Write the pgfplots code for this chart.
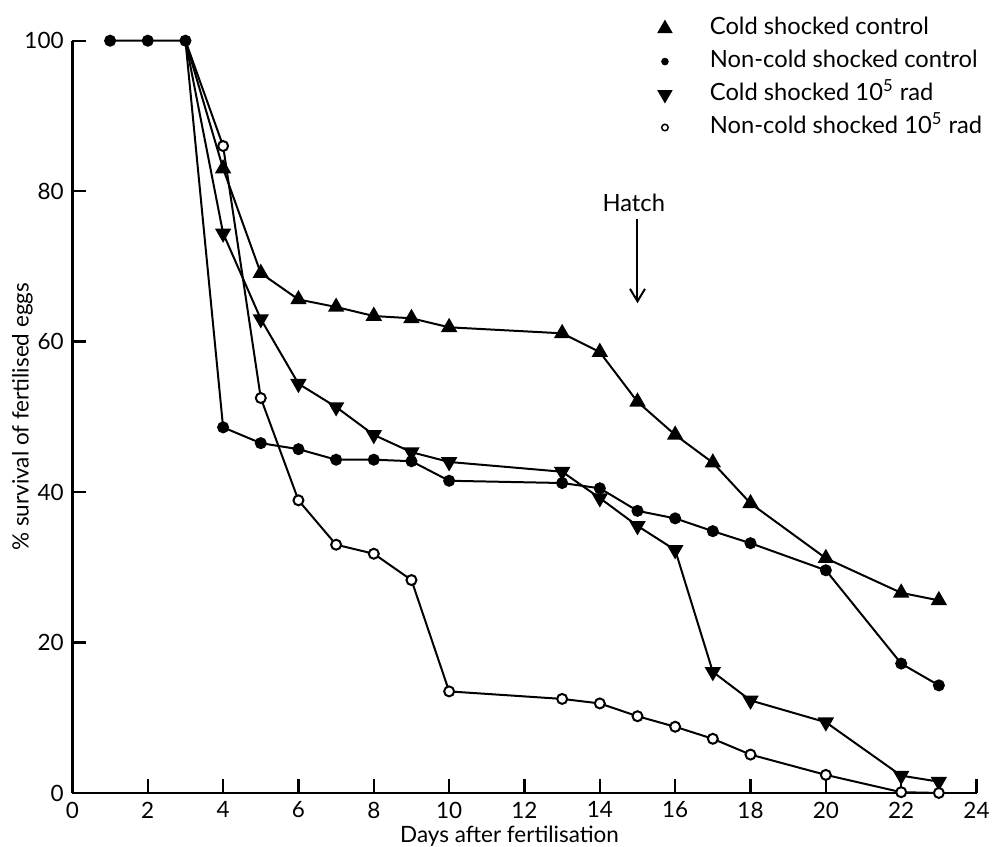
\documentclass[border=0pt]{standalone}
\usepackage{fontspec}
\setmainfont{Lato}
\usepackage{pgfplots}
\pgfplotsset{compat=1.18}
\usetikzlibrary{arrows.meta}
\begin{document}
\begin{tikzpicture}
\begin{axis}[
  scale only axis, width=362pt, height=301.2pt,
  xmin=0, xmax=24, ymin=0, ymax=100,
  clip=false,
  axis lines=left,
  axis line style={-, line width=1pt, black},
  xtick={0,2,...,24}, ytick={0,20,...,100},
  tick align=inside, major tick length=5.5pt,
  tick style={line width=0.9pt, black},
  /pgf/number format/assume math mode=true,
  tick label style={font=\fontsize{9}{10}\selectfont},
  every axis x label/.style={at={(axis description cs:0.4835,0)}, anchor=base, yshift=-20pt, font=\fontsize{9}{11}\selectfont},
  every axis y label/.style={at={(axis description cs:0,0.5)}, xshift=-20pt, rotate=90, anchor=center, font=\fontsize{9}{11}\selectfont},
  xlabel={Days after fertilisation},
  ylabel={\% survival of fertilised eggs},
  legend image code/.code={\draw[#1] plot coordinates {(0pt,0pt)}; \path[draw=none,fill=none] (-5pt,0pt) -- (17pt,0pt);},
  legend style={at={(axis description cs:0.641,1.035)}, anchor=north west, draw=none, fill=none, inner sep=0pt, row sep=2.2pt,
    nodes={inner sep=1pt, text height=7pt, text depth=2pt},
    font=\fontsize{9.5}{11}\selectfont},
  legend cell align=left,
  every axis plot/.append style={black, line width=0.8pt},
]
% legend images
\addlegendimage{only marks, mark=triangle*, mark size=2.8pt}
\addlegendentry{Cold shocked control}
\addlegendimage{only marks, mark=*, mark size=1.1pt}
\addlegendentry{Non-cold shocked control}
\addlegendimage{only marks, mark=triangle*, mark size=2.8pt, mark options={rotate=180}}
\addlegendentry{Cold shocked 10\textsuperscript{5} rad}
\addlegendimage{only marks, mark=*, mark size=1.3pt, mark options={fill=white, line width=0.6pt}}
\addlegendentry{Non-cold shocked 10\textsuperscript{5} rad}

% Cold shocked control
\addplot[forget plot, mark=triangle*, mark size=3pt, mark indices={2,...,17}] coordinates {
(3,100) (4,83) (5,69.1) (6,65.6) (7,64.6) (8,63.4) (9,63.1) (10,61.9) (13,61.1) (14,58.6) (15,52.0) (16,47.6) (17,43.9) (18,38.5) (20,31.2) (22,26.6) (23,25.6)};
% Cold shocked 10^5 rad
\addplot[forget plot, mark=triangle*, mark size=3pt, mark options={rotate=180}, mark indices={2,...,17}] coordinates {
(3,100) (4,74.4) (5,63.0) (6,54.4) (7,51.3) (8,47.6) (9,45.3) (10,44.0) (13,42.7) (14,39.2) (15,35.5) (16,32.3) (17,16.1) (18,12.3) (20,9.4) (22,2.3) (23,1.5)};
% Non-cold shocked 10^5 rad
\addplot[forget plot, mark=*, mark size=2pt, mark options={fill=white, line width=0.8pt}, mark indices={2,...,17}] coordinates {
(3,100) (4,86) (5,52.5) (6,38.9) (7,33.0) (8,31.8) (9,28.3) (10,13.5) (13,12.5) (14,11.9) (15,10.2) (16,8.8) (17,7.2) (18,5.1) (20,2.4) (22,0.1) (23,0)};
% Non-cold shocked control
\addplot[forget plot, mark=*, mark size=2pt] coordinates {
(1,100) (2,100) (3,100) (4,48.6) (5,46.5) (6,45.7) (7,44.3) (8,44.3) (9,44.1) (10,41.5) (13,41.2) (14,40.5) (15,37.5) (16,36.5) (17,34.8) (18,33.2) (20,29.6) (22,17.2) (23,14.3)};

\node[font=\fontsize{9.5}{11}\selectfont] at (axis cs:14.9,78.5) {Hatch};
\draw[-{Straight Barb[length=5pt,width=6pt]}, line width=0.8pt] (axis cs:15,76.3) -- (axis cs:15,65.1);
\end{axis}
\pgfresetboundingbox
\path[use as bounding box] (-29pt,-21.6pt) rectangle (369pt,317.5pt);
\end{tikzpicture}
\end{document}
